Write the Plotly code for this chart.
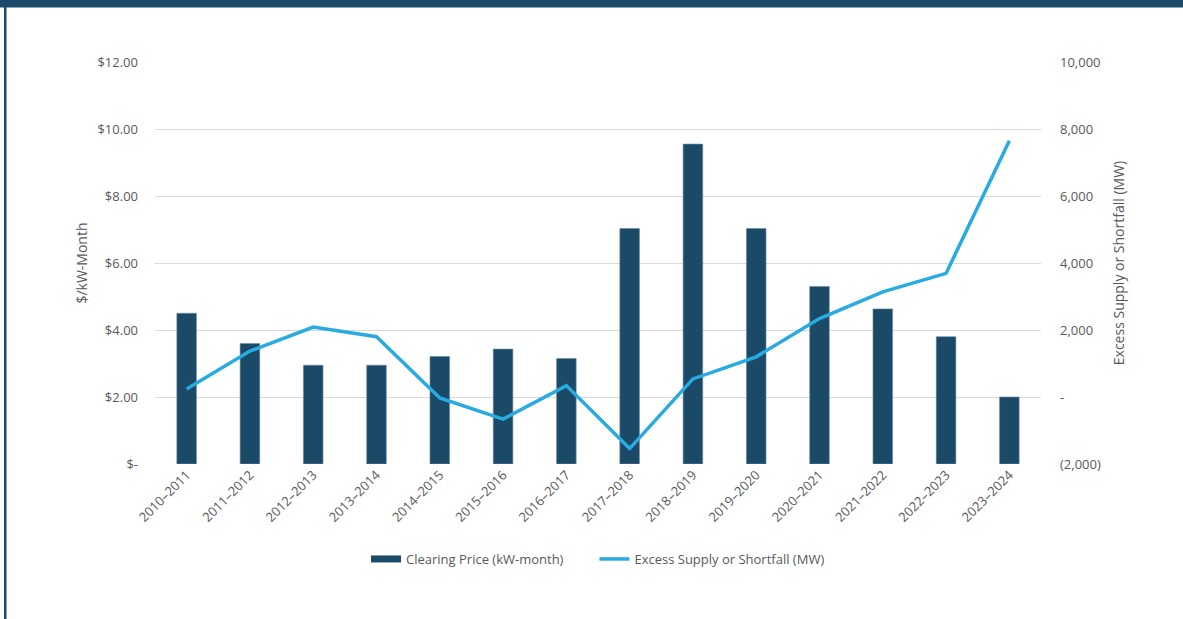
import plotly.graph_objects as go

years = ["2010–2011", "2011–2012", "2012–2013", "2013–2014", "2014–2015", "2015–2016",
         "2016–2017", "2017–2018", "2018–2019", "2019–2020", "2020–2021", "2021–2022",
         "2022–2023", "2023–2024"]
clearing_price = [4.50, 3.60, 2.95, 2.95, 3.21, 3.43, 3.15, 7.03, 9.55, 7.03, 5.30, 4.63, 3.80, 2.00]
excess_mw = [240, 1370, 2090, 1800, -30, -660, 340, -1540, 540, 1200, 2340, 3140, 3690, 7650]

left_ticks = [0, 2, 4, 6, 8, 10, 12]
left_labels = ["$-", "$2.00", "$4.00", "$6.00", "$8.00", "$10.00", "$12.00"]
right_ticks = [-2000, 0, 2000, 4000, 6000, 8000, 10000]
right_labels = ["(2,000)", "-", "2,000", "4,000", "6,000", "8,000", "10,000"]

DARK = "#1b4a69"
LIGHT = "#29abe2"
GRAY = "#595959"
FONT = "Open Sans"

fig = go.Figure()
fig.add_trace(go.Bar(
    x=years, y=clearing_price, name="Clearing Price (kW-month)",
    marker=dict(color=DARK, line=dict(color="#6f8aa0", width=0.6)),
    width=0.31, yaxis="y", showlegend=False
))
# legend-only swatch for the bar series (wide flat rectangle like the original)
fig.add_trace(go.Scatter(
    x=[None], y=[None], name="Clearing Price (kW-month)" + "\u2003\u2003",
    mode="lines", line=dict(color=DARK, width=7), yaxis="y", hoverinfo="skip"
))
fig.add_trace(go.Scatter(
    x=years, y=excess_mw, name="Excess Supply or Shortfall (MW)",
    mode="lines", line=dict(color=LIGHT, width=3.5), yaxis="y2"
))

L, R, T, B = 155, 142, 62, 155
W, H = 1183, 619
pw, ph = W - L - R, H - T - B

def px_x(px):
    return (px - L) / pw

def px_y(py):
    return (H - B - py) / ph

fig.update_layout(
    width=W, height=H,
    margin=dict(l=L, r=R, t=T, b=B),
    paper_bgcolor="white", plot_bgcolor="white",
    font=dict(family=FONT, size=13, color=GRAY),
    xaxis=dict(
        type="category", tickangle=-45, tickfont=dict(size=13, color=GRAY),
        showgrid=False, showline=False, ticks="", zeroline=False,
        categoryorder="array", categoryarray=years,
    ),
    yaxis=dict(
        range=[0, 12], tickvals=left_ticks, ticktext=left_labels,
        showgrid=True, gridcolor="#d9d9d9", gridwidth=1, zeroline=False,
        showline=False, ticks="", ticklabelstandoff=16,
        title=dict(text="$/kW-Month", font=dict(size=14, color=GRAY), standoff=6),
        tickfont=dict(size=13, color=GRAY),
    ),
    yaxis2=dict(
        range=[-2000, 10000], tickvals=right_ticks, ticktext=right_labels,
        overlaying="y", side="right", showgrid=False, zeroline=False,
        showline=False, ticks="", ticklabelstandoff=18,
        title=dict(text="Excess Supply or Shortfall (MW)", font=dict(size=14, color=GRAY), standoff=14),
        tickfont=dict(size=13, color=GRAY),
    ),
    legend=dict(
        orientation="h", x=0.5, xanchor="center", y=px_y(559), yanchor="middle",
        font=dict(size=13, color=GRAY), bgcolor="rgba(0,0,0,0)",
        traceorder="normal", itemwidth=30,
    ),
    shapes=[
        dict(type="rect", xref="paper", yref="paper",
             x0=px_x(-5), x1=px_x(W + 5), y0=px_y(7.5), y1=px_y(-5),
             fillcolor="#1b4a6b", line=dict(width=0), layer="above"),
        dict(type="rect", xref="paper", yref="paper",
             x0=px_x(4), x1=px_x(6.5), y0=px_y(H + 5), y1=px_y(0),
             fillcolor="#1b4a6b", line=dict(width=0), layer="above"),
    ],
)

fig.write_html("out.html", config={"displayModeBar": False},
               post_script="document.body.style.margin='0';document.body.style.overflow='hidden';")
